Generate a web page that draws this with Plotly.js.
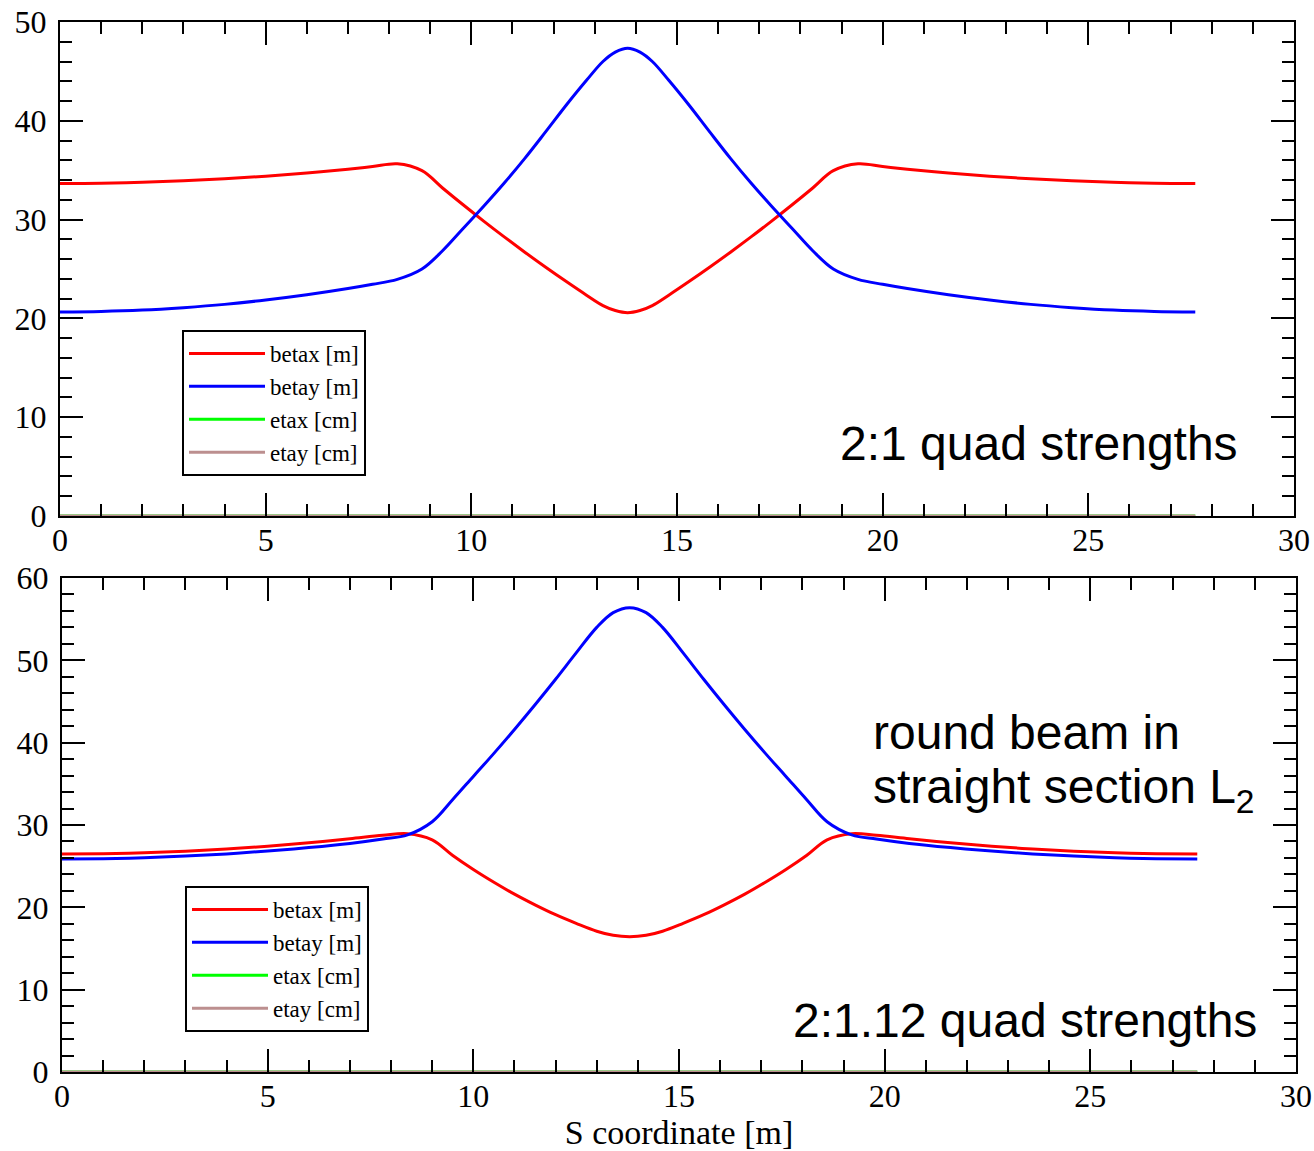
<!DOCTYPE html>
<html>
<head>
<meta charset="utf-8">
<script src="https://cdn.plot.ly/plotly-3.0.1.min.js"></script>
<style>html,body{margin:0;padding:0;background:#fff;}</style>
</head>
<body>
<div id="chart" style="width:1314px;height:1151px;"></div>
<script>
// ---- data ----
const sTop = [0,1,2,3,4,5,6,7,7.6,8.2,8.8,9.3,9.8,10.3,10.8,11.3,11.8,12.3,12.8,13.2,13.5,13.8,
              14.1,14.4,14.8,15.3,15.8,16.3,16.8,17.3,17.8,18.3,18.8,19.4,20.0,20.6,21.6,22.6,23.6,24.6,25.6,26.6,27.6];
const betaxTop = [33.65,33.68,33.77,33.92,34.13,34.40,34.72,35.10,35.37,35.65,34.95,33.20,31.50,29.85,28.25,26.70,25.20,23.75,22.35,21.30,20.80,20.58,
                  20.80,21.30,22.35,23.75,25.20,26.70,28.25,29.85,31.50,33.20,34.95,35.65,35.37,35.10,34.72,34.40,34.13,33.92,33.77,33.68,33.65];
const betayTop = [20.65,20.70,20.84,21.09,21.42,21.86,22.39,23.02,23.45,23.95,25.00,26.85,29.10,31.35,33.70,36.20,38.85,41.55,44.10,46.00,46.95,47.35,
                  46.95,46.00,44.10,41.55,38.85,36.20,33.70,31.35,29.10,26.85,25.00,23.95,23.45,23.02,22.39,21.86,21.42,21.09,20.84,20.70,20.65];
const sEtaTop = [0, 27.6];
const etaxTop = [0, 0];
const etayTop = [0, 0];

const sBot = [0,1,2,3,4,5,6,7,7.8,8.4,9.0,9.5,10.0,10.5,11.0,11.5,12.0,12.5,13.0,13.4,13.8,
              14.2,14.6,15.1,15.6,16.1,16.6,17.1,17.6,18.1,18.6,19.2,19.8,20.6,21.6,22.6,23.6,24.6,25.6,26.6,27.6];
const betaxBot = [26.48,26.52,26.63,26.82,27.08,27.42,27.84,28.33,28.75,28.95,28.20,26.30,24.60,23.05,21.60,20.30,19.10,18.05,17.10,16.60,16.43,
                  16.60,17.10,18.05,19.10,20.30,21.60,23.05,24.60,26.30,28.20,28.95,28.75,28.33,27.84,27.42,27.08,26.82,26.63,26.52,26.48];
const betayBot = [25.87,25.91,26.02,26.22,26.49,26.84,27.26,27.76,28.30,28.80,30.40,33.10,35.90,38.70,41.60,44.60,47.70,50.90,54.00,55.80,56.40,
                  55.80,54.00,50.90,47.70,44.60,41.60,38.70,35.90,33.10,30.40,28.80,28.30,27.76,27.26,26.84,26.49,26.22,26.02,25.91,25.87];
const sEtaBot = [0, 27.6];
const etaxBot = [0, 0];
const etayBot = [0, 0];

const seriesNames = ['betax [m]', 'betay [m]', 'etax [cm]', 'etay [cm]'];
const seriesColors = ['#ff0000', '#0000ff', '#00ff00', '#bc8f8f'];
const panelLabels = ['2:1 quad strengths', 'round beam in', 'straight section L<sub>2</sub>', '2:1.12 quad strengths'];
const xTitle = 'S coordinate [m]';

// ---- traces ----
function tr(x, y, i, xa, ya, lg) {
  return {x: x, y: y, name: seriesNames[i], type: 'scatter', mode: 'lines',
          line: {color: seriesColors[i], width: 3, shape: 'spline', smoothing: 1},
          xaxis: xa, yaxis: ya, legend: lg};
}
const data = [
  tr(sTop, betaxTop, 0, 'x', 'y', 'legend'),
  tr(sTop, betayTop, 1, 'x', 'y', 'legend'),
  tr(sEtaTop, etaxTop, 2, 'x', 'y', 'legend'),
  tr(sEtaTop, etayTop, 3, 'x', 'y', 'legend'),
  tr(sBot, betaxBot, 0, 'x2', 'y2', 'legend2'),
  tr(sBot, betayBot, 1, 'x2', 'y2', 'legend2'),
  tr(sEtaBot, etaxBot, 2, 'x2', 'y2', 'legend2'),
  tr(sEtaBot, etayBot, 3, 'x2', 'y2', 'legend2')
];

const serif = 'Liberation Serif, Times New Roman, serif';
const sans = 'Liberation Sans, Arial, sans-serif';

function axis(extra, fontSize, minorDtick) {
  return Object.assign({
    showline: true, linewidth: 2, linecolor: 'black', mirror: 'ticks',
    ticks: 'inside', ticklen: 23, tickwidth: 2, tickcolor: 'black',
    showgrid: false, zeroline: false, tick0: 0,
    tickfont: {family: serif, size: fontSize, color: 'black'},
    minor: {dtick: minorDtick, ticks: 'inside', ticklen: 12, tickwidth: 2, tickcolor: 'black', showgrid: false}
  }, extra);
}

const W = 1314, H = 1151;
const legendStyle = {bgcolor: 'white', bordercolor: 'black', borderwidth: 2, itemwidth: 76,
  font: {family: serif, size: 23, color: 'black'}, xanchor: 'left', yanchor: 'top', xref: 'paper', yref: 'paper'};

const layout = {
  width: W, height: H,
  margin: {l: 0, r: 0, t: 0, b: 0},
  paper_bgcolor: 'white', plot_bgcolor: 'white',
  showlegend: true,
  xaxis: axis({domain: [60 / W, 1294 / W], anchor: 'y', range: [0, 30], dtick: 5, ticklabelstandoff: -5}, 32, 1),
  yaxis: axis({domain: [1 - 516 / H, 1 - 22 / H], anchor: 'x', range: [0, 50], dtick: 10, ticklabelstandoff: 5}, 32, 2),
  xaxis2: axis({domain: [62 / W, 1296 / W], anchor: 'y2', range: [0, 30], dtick: 5, ticklabelstandoff: -5,
                title: {text: xTitle, font: {family: serif, size: 34, color: 'black'}, standoff: 2}}, 32, 1),
  yaxis2: axis({domain: [1 - 1072 / H, 1 - 578 / H], anchor: 'x2', range: [0, 60], dtick: 10, ticklabelstandoff: 5}, 32, 2),
  legend: Object.assign({x: 182 / W, y: 1 - 330 / H}, legendStyle),
  legend2: Object.assign({x: 185 / W, y: 1 - 886 / H}, legendStyle),
  annotations: [
    {text: panelLabels[0], xref: 'paper', yref: 'paper', x: 1240 / W, y: 1 - 443 / H,
     xanchor: 'right', yanchor: 'middle', showarrow: false, font: {family: sans, size: 48, color: 'black'}},
    {text: panelLabels[1], xref: 'paper', yref: 'paper', x: 871 / W, y: 1 - 732 / H,
     xanchor: 'left', yanchor: 'middle', showarrow: false, font: {family: sans, size: 48, color: 'black'}},
    {text: panelLabels[2], xref: 'paper', yref: 'paper', x: 871 / W, y: 1 - 790 / H,
     xanchor: 'left', yanchor: 'middle', showarrow: false, font: {family: sans, size: 48, color: 'black'}},
    {text: panelLabels[3], xref: 'paper', yref: 'paper', x: 1259 / W, y: 1 - 1020 / H,
     xanchor: 'right', yanchor: 'middle', showarrow: false, font: {family: sans, size: 48, color: 'black'}}
  ]
};

Plotly.newPlot('chart', data, layout, {displayModeBar: false, staticPlot: true});
</script>
</body>
</html>
